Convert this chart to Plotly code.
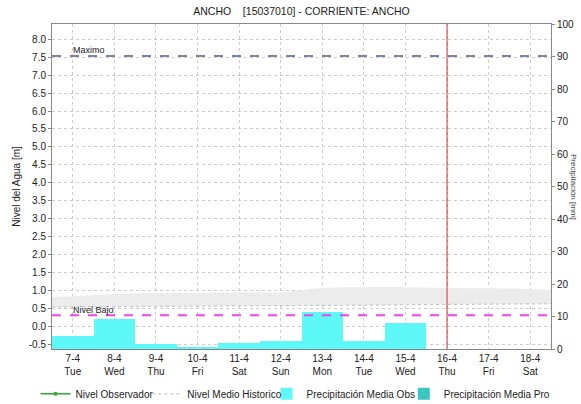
import plotly.graph_objects as go

days = ["7-4", "8-4", "9-4", "10-4", "11-4", "12-4", "13-4", "14-4", "15-4", "16-4", "17-4", "18-4"]
weekdays = ["Tue", "Wed", "Thu", "Fri", "Sat", "Sun", "Mon", "Tue", "Wed", "Thu", "Fri", "Sat"]
precip_obs = [4.0, 9.3, 1.5, 0.5, 2.0, 2.4, 11.5, 2.4, 8.1, None, None, None]
precip_pro = [None] * 12
nivel_obs = [None] * 12

band_x = [-0.5, 0, 1, 2, 3, 4, 5, 6, 7, 8, 9, 10, 11, 11.5]
hist_low = [0.55, 0.55, 0.56, 0.57, 0.57, 0.58, 0.58, 0.59, 0.60, 0.61, 0.62, 0.63, 0.64, 0.64]
hist_high = [0.83, 0.85, 0.91, 0.94, 0.94, 0.96, 0.96, 1.08, 1.10, 1.10, 1.08, 1.07, 1.05, 1.02]

maximo = 7.53
nivel_bajo = 0.32
now_idx = 9

x = list(range(len(days)))
ticktext = [f"{d}<br>{w}" for d, w in zip(days, weekdays)]
FONT = "Liberation Sans, Arial, sans-serif"

fig = go.Figure()
fig.add_trace(go.Bar(x=x, y=precip_obs, yaxis="y2", width=1.0, marker=dict(color="#5ff8f8", line=dict(width=0)),
                     name="Precipitación Media Obs", legend="legend3"))
fig.add_trace(go.Bar(x=x, y=precip_pro, yaxis="y2", width=1.0, marker=dict(color="#3cc6c0", line=dict(width=0)),
                     name="Precipitación Media Pro", legend="legend4"))
fig.add_trace(go.Scatter(x=band_x, y=hist_low, mode="lines", line=dict(color="#c8c8c8", width=1.2, dash="dot"),
                         name="Nivel Medio Historico", legend="legend2"))
fig.add_trace(go.Scatter(x=band_x, y=hist_high, mode="lines", line=dict(color="rgba(0,0,0,0)", width=0, shape="spline"),
                         fill="tonexty", fillcolor="#ececec", showlegend=False, hoverinfo="skip"))
fig.add_trace(go.Scatter(x=x, y=nivel_obs, mode="lines+markers", line=dict(color="#33aa33", width=1.5),
                         marker=dict(size=4, color="#33aa33"), name="Nivel Observador", legend="legend"))

# reference lines
fig.add_shape(type="line", xref="paper", x0=0, x1=1, yref="y", y0=maximo, y1=maximo,
              line=dict(color="#7884a0", width=2, dash="dash"))
fig.add_shape(type="line", xref="paper", x0=0, x1=1, yref="y", y0=nivel_bajo, y1=nivel_bajo,
              line=dict(color="#ee44ee", width=2, dash="dash"))
fig.add_shape(type="line", xref="x", x0=now_idx, x1=now_idx, yref="paper", y0=0, y1=1,
              line=dict(color="#cc3333", width=1))
fig.add_annotation(x=-0.05, y=maximo, xref="x", yref="y", text="Maximo", showarrow=False,
                   xanchor="left", yanchor="bottom", yshift=-1, font=dict(size=9, color="#222", family=FONT))
fig.add_annotation(x=-0.05, y=nivel_bajo, xref="x", yref="y", text="Nivel Bajo", showarrow=False,
                   xanchor="left", yanchor="bottom", yshift=-2, font=dict(size=9, color="#222", family=FONT))
# right axis title (at the page edge, as in the reference)
fig.add_annotation(x=1, y=0.5, xref="paper", yref="paper", text="Precipitación [mm]", showarrow=False,
                   textangle=90, xanchor="right", yanchor="middle", xshift=29,
                   font=dict(size=8, color="#444", family=FONT))

legend_common = dict(orientation="h", xanchor="left", y=-0.138, yanchor="middle",
                     font=dict(size=10, family=FONT, color="#222"), itemwidth=30,
                     bgcolor="rgba(0,0,0,0)", borderwidth=0)

fig.update_layout(
    template="none",
    width=581, height=404,
    margin=dict(l=52, r=30, t=24, b=55, autoexpand=False),
    paper_bgcolor="white", plot_bgcolor="white",
    font=dict(family=FONT, size=10, color="#222"),
    title=dict(text="ANCHO    [15037010] - CORRIENTE: ANCHO", x=0.519, xanchor="center", y=0.972, yanchor="middle",
               font=dict(size=10.5, family=FONT, color="#222")),
    barmode="overlay", bargap=0,
    showlegend=True,
    legend=dict(x=-0.033, **legend_common),
    legend2=dict(x=0.191, **legend_common),
    legend3=dict(x=0.430, **legend_common),
    legend4=dict(x=0.705, **legend_common),
    xaxis=dict(range=[-0.5, 11.5], tickmode="array", tickvals=x, ticktext=ticktext,
               showgrid=True, gridcolor="#cccccc", griddash="dot", gridwidth=1,
               showline=True, linecolor="#888", mirror=True, ticks="", zeroline=False,
               automargin=False, tickfont=dict(size=10)),
    yaxis=dict(range=[-0.62, 8.42], tickmode="array",
               tickvals=[i * 0.5 for i in range(-1, 17)],
               ticktext=[f"{i * 0.5:.1f}" for i in range(-1, 17)],
               showgrid=True, gridcolor="#cccccc", griddash="dot", gridwidth=1,
               showline=True, linecolor="#888", ticks="outside", ticklen=3, tickcolor="#888",
               zeroline=False, automargin=False,
               title=dict(text="Nivel del Agua [m]", font=dict(size=10), standoff=6),
               tickfont=dict(size=10)),
    yaxis2=dict(range=[0, 100], overlaying="y", side="right", tickmode="array",
                tickvals=list(range(0, 101, 10)), showgrid=False, showline=True, linecolor="#888",
                ticks="outside", ticklen=3, tickcolor="#888", zeroline=False, automargin=False,
                tickfont=dict(size=10)),
)

fig.write_html("out.html", config={"displayModeBar": False},
               post_script="document.body.style.margin='0';")
